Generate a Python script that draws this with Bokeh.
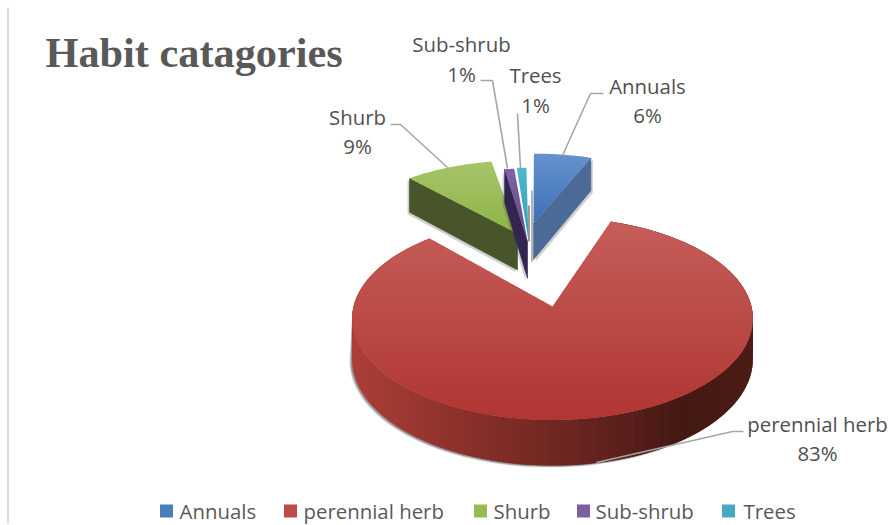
import numpy as np
from bokeh.plotting import figure
from bokeh.models import Range1d
from bokeh.core.properties import value
from bokeh.embed import file_html
from bokeh.resources import INLINE

categories = ["Annuals", "perennial herb", "Shurb", "Sub-shrub", "Trees"]
values = [6, 83, 9, 1, 1]
title = "Habit catagories"

# layout
ox, oy, A, B, k, D0 = 552, 306, 199, 100, 0.12, 40
apex = [(533, 223), (552, 306), (517, 233), (527, 241), (528, 240)]
rot = [-0.5, -2.6, -3, -2, -1.5]
radius = [0.95, 1.0, 0.97, 0.95, 0.95]
top_light = [(102, 146, 205), (197, 93, 89), (166, 196, 106), (128, 98, 168), (82, 182, 206)]
top_dark = [(58, 113, 183), (176, 54, 50), (140, 180, 70), (100, 66, 142), (45, 160, 190)]
wall_col = [(76, 106, 150), None, (72, 84, 42), (50, 38, 80), None]
legend_col = ["#4A7EBB", "#BE4B48", "#98B954", "#7D5FA0", "#46AAC5"]
legend_sq = [166, 290, 480, 583, 728]
legend_tx = [179, 303, 493, 595, 743]
label_pos = [(647, 85), (817, 423), (357, 116), (461, 43.5), (535, 74.5)]
leaders = [
    [(562, 155), (590, 93), (603, 93)],
    [(596, 462), (732, 431), (743, 431)],
    [(447, 167), (400, 124), (390, 124)],
    [(507, 168), (492, 80), (480, 80)],
    [(520, 168), (517, 113)],
]
FONT = "Open Sans"
LABEL = "20.4px"

p = figure(width=891, height=525, x_range=Range1d(0, 891), y_range=Range1d(525, 0),
           output_backend="svg", toolbar_location=None, min_border=0)
p.axis.visible = False
p.grid.visible = False
p.outline_line_color = None
p.background_fill_color = "white"
p.border_fill_color = "white"


def hexc(c):
    return "#%02x%02x%02x" % tuple(int(round(v)) for v in c)


def project(u, v):
    s = 1.0 / (1.0 + k * v)
    return ox + A * u * s, oy - B * v * s, s


def unproject(x, y):
    dx, dy = x - ox, oy - y
    v = dy / (B - k * dy)
    u = dx * (1 + k * v) / A
    return u, v


def clip(poly, y0, keep_below):
    out = []
    n = len(poly)
    for i in range(n):
        a, b = poly[i], poly[(i + 1) % n]
        ina = a[1] >= y0 if keep_below else a[1] <= y0
        inb = b[1] >= y0 if keep_below else b[1] <= y0
        if ina:
            out.append(a)
        if ina != inb:
            t = (y0 - a[1]) / (b[1] - a[1])
            out.append((a[0] + t * (b[0] - a[0]), y0))
    return out


def strips(poly, c0, c1, step=5.0):
    ys = [q[1] for q in poly]
    lo, hi = min(ys), max(ys)
    xs_l, ys_l, cols = [], [], []
    y = lo
    while y < hi:
        band = clip(clip(poly, y, True), y + step + 0.7, False)
        if len(band) >= 3:
            t = (y + step / 2 - lo) / (hi - lo)
            xs_l.append([q[0] for q in band])
            ys_l.append([q[1] for q in band])
            cols.append(hexc([c0[i] + t * (c1[i] - c0[i]) for i in range(3)]))
        y += step
    p.patches(xs_l, ys_l, fill_color=cols, line_color=None)


fracs = np.array(values, dtype=float) / sum(values)
edges = np.concatenate([[0], np.cumsum(fracs)]) * 360.0

geo = []
for i in range(len(values)):
    a0, a1 = edges[i] + rot[i], edges[i + 1] + rot[i]
    au, av = unproject(*apex[i])
    th = np.radians(np.arange(a0, a1 + 0.01, max((a1 - a0) / 120.0, 0.5)))
    pts = [project(au + radius[i] * np.sin(t), av + radius[i] * np.cos(t)) for t in th]
    ax, ay, asc = project(au, av)
    geo.append(dict(apex=(ax, ay, asc), arc=pts))

# shadow under the big slice (front part only)
arc = geo[1]["arc"]
front = [q for q in arc if q[1] > 315]
for off, alpha in [(4, 0.12), (3, 0.2), (2, 0.3)]:
    sx = [q[0] - off * 0.7 for q in front] + [q[0] for q in front[::-1]]
    sy = [q[1] + D0 * q[2] + off * 0.5 for q in front] + [q[1] for q in front[::-1]]
    p.patch(sx, sy, fill_color="#303030", fill_alpha=alpha, line_color=None)

# wall of the big slice
wx = [352, 500, 620, 680, 752]
wr = [172, 128, 92, 68, 76]
wg = [62, 44, 32, 24, 28]
wb = [56, 38, 28, 20, 22]
qx, qy, qc = [], [], []
for j in range(len(arc) - 1):
    a, b = arc[j], arc[min(j + 2, len(arc) - 1)]
    qx.append([a[0], b[0], b[0], a[0]])
    qy.append([a[1], b[1], b[1] + D0 * b[2], a[1] + D0 * a[2]])
    xm = (a[0] + arc[j + 1][0]) / 2
    qc.append(hexc((np.interp(xm, wx, wr), np.interp(xm, wx, wg), np.interp(xm, wx, wb))))
p.patches(qx, qy, fill_color=qc, line_color=None)
strips([(q[0], q[1]) for q in arc] + [geo[1]["apex"][:2]], top_light[1], top_dark[1])

# soft grey slivers between the small slices and the blue wedge
p.line([531.5, 531.5], [190, 261], line_color="#9a9a9a", line_width=1.5)
p.line([528.5, 528.5], [205, 241], line_color="#9a9a9a", line_width=2)

# the pulled-out slices, from the outside in
for i, wall_end in [(0, -1), (2, 0), (3, 0), (4, None)]:
    g = geo[i]
    ax, ay, asc = g["apex"]
    if wall_end is not None:
        e = g["arc"][wall_end]
        wx_ = [ax, e[0], e[0], ax]
        wy_ = [ay, e[1], e[1] + D0 * e[2], ay + D0 * asc]
        sdx = -2 if i != 0 else 2
        p.patch([q + sdx for q in wx_], [q + 2 for q in wy_], fill_color="#404040",
                fill_alpha=0.25, line_color=None)
        p.patch(wx_, wy_, fill_color=hexc(wall_col[i]), line_color=hexc(wall_col[i]), line_width=0.6)
    strips([(q[0], q[1]) for q in g["arc"]] + [(ax, ay)], top_light[i], top_dark[i], step=3.0)

# leader lines
for pts in leaders:
    p.line([q[0] for q in pts], [q[1] for q in pts], line_color="#a6a6a6", line_width=1.6)

# data labels
pct = ["%d%%" % v for v in values]
p.text([q[0] for q in label_pos], [q[1] for q in label_pos], text=categories,
       text_font=value(FONT), text_font_size=value(LABEL), text_color="#505050",
       text_align="center", text_baseline="middle")
p.text([q[0] for q in label_pos], [q[1] + 29.5 for q in label_pos], text=pct,
       text_font=value(FONT), text_font_size=value(LABEL), text_color="#505050",
       text_align="center", text_baseline="middle")

# title
p.text([45], [52], text=[title], text_font=value("Liberation Serif"), text_font_size=value("42.3px"),
       text_font_style="bold", text_color="#595959", text_align="left", text_baseline="middle")

# legend
p.rect(legend_sq, [510.5] * 5, width=13, height=13, fill_color=legend_col, line_color=None)
p.text(legend_tx, [510] * 5, text=categories, text_font=value(FONT), text_font_size=value(LABEL),
       text_color="#595959", text_align="left", text_baseline="middle")

# frame edge at the left
p.line([7.5, 7.5], [7, 523], line_color="#dcdcdc", line_width=2)

open("out.html", "w").write(file_html(p, INLINE))
